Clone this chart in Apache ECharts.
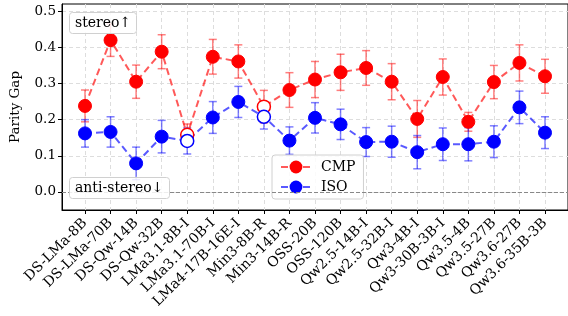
<!DOCTYPE html>
<html><head><meta charset="utf-8">
<script src="https://cdn.jsdelivr.net/npm/echarts@6/dist/echarts.min.js"></script>
<style>html,body{margin:0;padding:0;background:#fff}#c{width:568px;height:316px}</style>
</head><body><div id="c"></div>
<script>
const categories = ['DS-LMa-8B','DS-LMa-70B','DS-Qw-14B','DS-Qw-32B','LMa3.1-8B-I','LMa3.1-70B-I','LMa4-17B-16E-I','Min3-8B-R','Min3-14B-R','OSS-20B','OSS-120B','Qw2.5-14B-I','Qw2.5-32B-I','Qw3-4B-I','Qw3-30B-3B-I','Qw3.5-4B','Qw3.5-27B','Qw3.6-27B','Qw3.6-35B-3B'];
const cmpValues = [0.238, 0.420, 0.305, 0.388, 0.158, 0.374, 0.361, 0.236, 0.282, 0.311, 0.331, 0.343, 0.305, 0.202, 0.318, 0.194, 0.304, 0.357, 0.320];
const cmpErr = [0.044, 0.045, 0.046, 0.047, 0.030, 0.048, 0.046, 0.045, 0.048, 0.050, 0.050, 0.048, 0.050, 0.051, 0.050, 0.026, 0.046, 0.050, 0.047];
const isoValues = [0.162, 0.166, 0.079, 0.153, 0.141, 0.206, 0.249, 0.208, 0.142, 0.205, 0.187, 0.138, 0.139, 0.110, 0.132, 0.132, 0.139, 0.234, 0.164];
const isoErr = [0.038, 0.042, 0.045, 0.045, 0.036, 0.044, 0.043, 0.034, 0.038, 0.042, 0.042, 0.040, 0.043, 0.046, 0.045, 0.046, 0.044, 0.045, 0.044];
const hollowIndices = [4, 7];
const yTicks = [0, 0.1, 0.2, 0.3, 0.4, 0.5];
const xTicks = categories.map((c, i) => i);

const FONT = 'DejaVu Serif';
const RED = '#ff0000', BLUE = '#0000ff';

function pointData(vals, color) {
  return vals.map((v, i) => hollowIndices.includes(i)
    ? { value: [i, v], itemStyle: { color: '#ffffff', borderColor: color, borderWidth: 1.5 } }
    : { value: [i, v] });
}
function errData(vals, errs) {
  return vals.map((v, i) => [i, v - errs[i], v + errs[i]]);
}
function errRender(color) {
  return function (params, api) {
    const x = api.value(0), lo = api.value(1), hi = api.value(2);
    const p1 = api.coord([x, lo]), p2 = api.coord([x, hi]);
    const w = 4;
    const style = { stroke: color, lineWidth: 1.5, fill: null };
    return { type: 'group', children: [
      { type: 'line', shape: { x1: p1[0], y1: p1[1], x2: p2[0], y2: p2[1] }, style },
      { type: 'line', shape: { x1: p1[0] - w, y1: p1[1], x2: p1[0] + w, y2: p1[1] }, style },
      { type: 'line', shape: { x1: p2[0] - w, y1: p2[1], x2: p2[0] + w, y2: p2[1] }, style }
    ]};
  };
}

const chart = echarts.init(document.getElementById('c'), null, { renderer: 'canvas' });
const boxStyle = { borderColor: '#d0d0d0', borderWidth: 1, borderRadius: 3, backgroundColor: 'rgba(255,255,255,0.85)' };
chart.setOption({
  animation: false,
  title: [
    Object.assign({ text: 'stereo↑', left: 69, top: 12, padding: [4, 6],
      textStyle: { fontFamily: FONT, fontSize: 14, fontWeight: 'normal', color: '#000' } }, boxStyle),
    Object.assign({ text: 'anti-stereo↓', left: 69, top: 177, padding: [4, 6],
      textStyle: { fontFamily: FONT, fontSize: 14, fontWeight: 'normal', color: '#000' } }, boxStyle)
  ],
  legend: Object.assign({
    data: ['CMP', 'ISO'], orient: 'vertical', left: 272, top: 155, padding: [5, 8],
    itemWidth: 30, itemHeight: 16, itemGap: 6,
    textStyle: { fontFamily: FONT, fontSize: 14, color: '#000', padding: [0, 0, 0, 5] }
  }, boxStyle),
  grid: { left: 62, top: 4, width: 507, height: 206, show: true, borderColor: '#000', borderWidth: 1, backgroundColor: 'transparent' },
  xAxis: {
    type: 'value', min: -0.9, max: 18.9,
    axisLine: { show: true, onZero: false, lineStyle: { color: '#000', width: 1 } },
    axisTick: { show: true, customValues: xTicks, length: 4, lineStyle: { color: '#000' } },
    axisLabel: { customValues: xTicks, rotate: 45, margin: 11, fontFamily: FONT, fontSize: 14, color: '#000',
      formatter: v => categories[Math.round(v)] },
    splitLine: { show: true, lineStyle: { color: '#dddddd', type: [4, 3], width: 1 } }
  },
  yAxis: {
    type: 'value', min: -0.05, max: 0.52,
    name: 'Parity Gap', nameLocation: 'middle', nameGap: 40,
    nameTextStyle: { fontFamily: FONT, fontSize: 13.5, color: '#000' },
    axisLine: { show: true, onZero: false, lineStyle: { color: '#000', width: 1 } },
    axisTick: { show: true, customValues: yTicks, length: 4, lineStyle: { color: '#000' } },
    axisLabel: { customValues: yTicks, margin: 6, fontFamily: FONT, fontSize: 13.5, color: '#000',
      formatter: v => v.toFixed(1) },
    splitLine: { show: true, lineStyle: { color: '#dddddd', type: [4, 3], width: 1 } }
  },
  series: [
    { name: 'CMP-err', type: 'custom', renderItem: errRender('rgba(255,0,0,0.5)'), data: errData(cmpValues, cmpErr),
      encode: { x: 0, y: [1, 2] }, z: 2, silent: true },
    { name: 'ISO-err', type: 'custom', renderItem: errRender('rgba(0,0,255,0.5)'), data: errData(isoValues, isoErr),
      encode: { x: 0, y: [1, 2] }, z: 2, silent: true },
    { name: 'CMP', type: 'line', data: pointData(cmpValues, RED), symbol: 'circle', symbolSize: 13, z: 3,
      itemStyle: { color: RED, borderColor: RED },
      lineStyle: { color: 'rgba(255,0,0,0.65)', width: 2, type: [7, 4] },
      markLine: { silent: true, symbol: 'none', label: { show: false },
        lineStyle: { color: '#888888', type: [4, 2], width: 1 }, data: [{ yAxis: 0 }] } },
    { name: 'ISO', type: 'line', data: pointData(isoValues, BLUE), symbol: 'circle', symbolSize: 13, z: 3,
      itemStyle: { color: BLUE, borderColor: BLUE },
      lineStyle: { color: 'rgba(0,0,255,0.65)', width: 2, type: [7, 4] } }
  ]
});
</script>
</body></html>
